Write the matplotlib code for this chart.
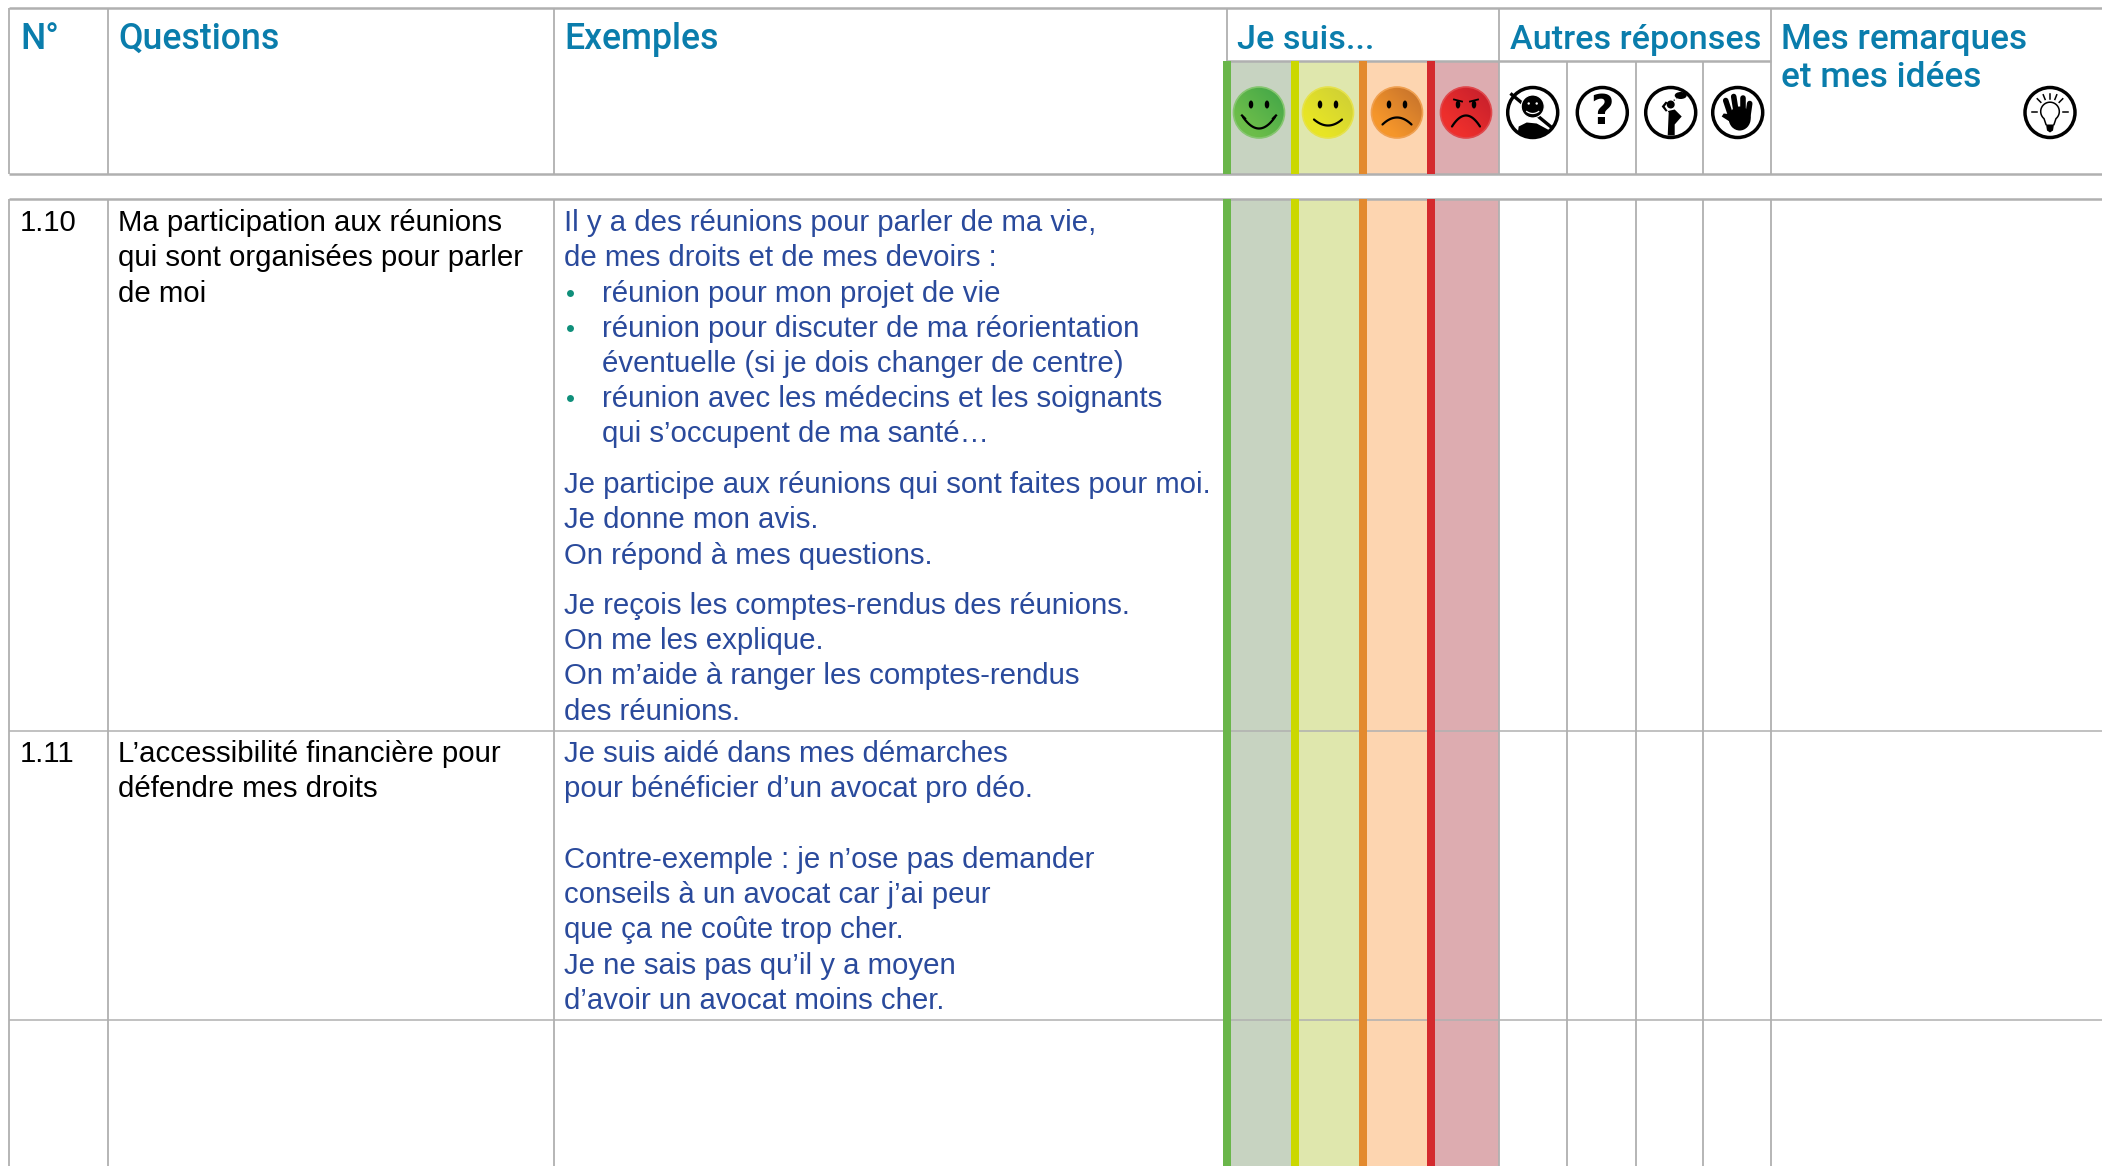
import matplotlib
matplotlib.use("Agg")
import numpy as np
import matplotlib.pyplot as plt
from matplotlib.patches import Circle, Rectangle, Polygon, Ellipse
from matplotlib.colors import LinearSegmentedColormap

# ---------- content ----------
header_titles = ["N°", "Questions", "Exemples", "Je suis...", "Autres réponses"]
header_remarks = ["Mes remarques", "et mes idées"]
row_numbers = ["1.10", "1.11"]
row_questions = [
    ["Ma participation aux réunions", "qui sont organisées pour parler", "de moi"],
    ["L’accessibilité financière pour", "défendre mes droits"],
]
examples_a = ["Il y a des réunions pour parler de ma vie,", "de mes droits et de mes devoirs :"]
bullets_a = [["réunion pour mon projet de vie"],
             ["réunion pour discuter de ma réorientation", "éventuelle (si je dois changer de centre)"],
             ["réunion avec les médecins et les soignants", "qui s’occupent de ma santé…"]]
examples_b = ["Je participe aux réunions qui sont faites pour moi.", "Je donne mon avis.", "On répond à mes questions."]
examples_c = ["Je reçois les comptes-rendus des réunions.", "On me les explique.",
              "On m’aide à ranger les comptes-rendus", "des réunions."]
examples_d = ["Je suis aidé dans mes démarches", "pour bénéficier d’un avocat pro déo."]
examples_e = ["Contre-exemple : je n’ose pas demander", "conseils à un avocat car j’ai peur",
              "que ça ne coûte trop cher.", "Je ne sais pas qu’il y a moyen", "d’avoir un avocat moins cher."]

# ---------- style ----------
W, H = 2102, 1166
GRID = "#b0b0b0"
HEAD = "#0a7dac"
BLUE = "#2a4a9c"
BULLET = "#0f8f7a"
TXT = 21.12
hdr_sizes = [25.6, 25.7, 25.7, 24.6, 24.6]
HDR_REMARKS = 25.3
LH = 35.25
band_fill = ["#c7d3c1", "#dfe7ad", "#fdd5b0", "#ddacb0"]
band_edge = ["#6ab64a", "#cbd800", "#e38a2e", "#d42a2e"]
face_light = ["#6cbd4a", "#e8e525", "#f5962a", "#ee2f2c"]
face_dark = ["#45a848", "#cfd035", "#c8742c", "#c8202c"]
face_rim = ["#86c670", "#e6e24c", "#f0a050", "#e0484c"]

fig = plt.figure(figsize=(W / 100, H / 100), dpi=100)
ax = fig.add_axes([0, 0, 1, 1])
ax.set_xlim(0, W)
ax.set_ylim(H, 0)
ax.axis("off")

x_cols = [9, 108, 553.5, 1226.5, 1499, 1771]
x_sub = [1567, 1635.5, 1703]
x_bands = [1223, 1291, 1359, 1427]
x_band_end = [1291, 1359, 1427, 1499]

def vline(x, y0, y1, lw=1.3):
    ax.plot([x, x], [y0, y1], color=GRID, lw=lw, solid_capstyle="butt", zorder=3)

def hline(x0, x1, y, lw=1.8):
    ax.plot([x0, x1], [y, y], color=GRID, lw=lw, solid_capstyle="butt", zorder=3)

# colour bands
for (top, bottom) in [(61, 174), (199, H)]:
    for x0, x1, f, e in zip(x_bands, x_band_end, band_fill, band_edge):
        ax.add_patch(Rectangle((x0, top), x1 - x0, bottom - top, fc=f, ec="none", zorder=1))
        ax.add_patch(Rectangle((x0, top), 8, bottom - top, fc=e, ec="none", zorder=4))

# grid lines
hline(9, W, 8)
hline(9, W, 174)
hline(9, W, 199)
hline(1226.5, 1771, 61)
for y in (731, 1020):
    hline(9, W, y, lw=1.1)
for x in x_cols[:3] + x_cols[4:]:
    vline(x, 8, 174)
    vline(x, 199, H)
vline(x_cols[3], 8, 61)
for x in x_sub:
    vline(x, 61, 174)
    vline(x, 199, H)

# headers
hdr_x = [20, 118, 564, 1237, 1510]
hdr_font = dict(color=HEAD, family="Roboto", weight="medium", va="baseline", ha="left")
for x, t, s in zip(hdr_x, header_titles, hdr_sizes):
    ax.text(x, 49, t, fontsize=s, **hdr_font)
for i, t in enumerate(header_remarks):
    ax.text(1781, 49 + i * 38, t, fontsize=HDR_REMARKS, **hdr_font)

def txt(x, y, s, color="black"):
    ax.text(x, y, s, color=color, fontsize=TXT, family="Liberation Sans", va="baseline", ha="left")

BASE0 = 231
for y0, num, qs in zip((BASE0, 762), row_numbers, row_questions):
    txt(20, y0, num)
    for i, q in enumerate(qs):
        txt(118, y0 + i * LH, q)

XE, XB = 564.5, 602
y = BASE0
for s in examples_a:
    txt(XE, y, s, BLUE); y += LH
for group in bullets_a:
    ax.plot([570], [y - 9], "o", color=BULLET, ms=5, mec="none")
    for s in group:
        txt(XB, y, s, BLUE); y += LH
y = 493
for s in examples_b:
    txt(XE, y, s, BLUE); y += LH
y = 614
for s in examples_c:
    txt(XE, y, s, BLUE); y += LH
y = 762
for s in examples_d:
    txt(XE, y, s, BLUE); y += LH
y += LH
for s in examples_e:
    txt(XE, y, s, BLUE); y += LH

# ---------- smileys ----------
face_x = [1259, 1328, 1397, 1466]
face_y = 112.5
R = 25.5
# mouth: half width, end offset, middle offset
mouths = [(16, 4.5, 16), (14, 7, 13), (14.5, 12, 5), (14, 14, 3)]

def curve(cx, hw, y_end, y_mid, lw=1.6):
    t = np.linspace(-1, 1, 40)
    ax.plot(cx + hw * t, face_y + y_mid + (y_end - y_mid) * t ** 2, color="black", lw=lw, zorder=6,
            solid_capstyle="round")

# first row is drawn at the lower edge: light at lower left, dark at upper right
grad = np.linspace(0, 1, 64)[None, :] + np.linspace(0, 1, 64)[:, None]
for i, cx in enumerate(face_x):
    cmap = LinearSegmentedColormap.from_list("f", [face_light[i], face_dark[i]])
    clip = Circle((cx, face_y), R, transform=ax.transData, fc="none", ec="none")
    ax.add_patch(clip)
    im = ax.imshow(grad, extent=(cx - R, cx + R, face_y - R, face_y + R), origin="upper", cmap=cmap,
                   vmin=0.5, vmax=1.8, zorder=5, aspect="auto")
    im.set_clip_path(clip)
    ax.add_patch(Circle((cx, face_y), R, fc="none", ec=face_rim[i], lw=1.2, zorder=5.5))
    for dx in (-8, 8):
        ax.add_patch(Ellipse((cx + dx, face_y - 8), 4.5, 8, fc="black", ec="none", zorder=6))
    hw, ye, ym = mouths[i]
    curve(cx, hw, ye, ym)
    if i == 0:
        ax.plot([cx - 17, cx - 14], [face_y + 3, face_y + 6], color="black", lw=1.6, zorder=6)
        ax.plot([cx + 17, cx + 14], [face_y + 3, face_y + 6], color="black", lw=1.6, zorder=6)
    if i == 3:
        ax.plot([cx - 12, cx - 4], [face_y - 13, face_y - 11], color="black", lw=1.3, zorder=6)
        ax.plot([cx + 12, cx + 4], [face_y - 13, face_y - 11], color="black", lw=1.3, zorder=6)

# ---------- round icons ----------
def ring(cx, r=25, lw=2.5):
    c = Circle((cx, face_y), r, fc="white", ec="black", lw=lw, zorder=5)
    ax.add_patch(c)
    return c

icon_x = [1532.7, 1602.3, 1670.7, 1737.7]
bulb_x = 2050

# 1: person who does not want to answer
cx = icon_x[0]
c = ring(cx)
ax.plot([cx - 21, cx + 19], [face_y - 18, face_y + 15], color="black", lw=2.4, zorder=6)
body = Polygon([(cx - 16, face_y + 28), (cx - 14, face_y + 14), (cx - 6, face_y + 10), (cx + 4, face_y + 11),
                (cx + 17, face_y + 18), (cx + 17, face_y + 28)], fc="black", ec="none", zorder=5.5)
ax.add_patch(body)
body.set_clip_path(c)
ax.add_patch(Circle((cx, face_y - 6), 11.5, fc="black", ec="white", lw=0.8, zorder=6))
for dx in (-4, 4):
    ax.add_patch(Circle((cx + dx, face_y - 9), 1.2, fc="white", ec="none", zorder=7))
t = np.linspace(-1, 1, 20)
ax.plot(cx + 6 * t, face_y + 1 - 2 * t ** 2, color="white", lw=0.9, zorder=7)

# 2: question mark
cx = icon_x[1]
ring(cx)
ax.text(cx, face_y + 1, "?", fontsize=29, weight="bold", family="DejaVu Sans", ha="center", va="center", zorder=6)

# 3: thinking person
cx = icon_x[2]
ring(cx)
ax.add_patch(Circle((cx, face_y - 8), 4, fc="black", zorder=6))
ax.add_patch(Polygon([(cx - 3, face_y + 23), (cx + 4, face_y + 23), (cx + 4, face_y + 12), (cx + 11, face_y + 4),
                      (cx + 4, face_y - 3), (cx - 5, face_y - 1), (cx - 9, face_y - 6), (cx - 5, face_y - 11),
                      (cx - 3, face_y - 10), (cx - 6, face_y - 6), (cx - 2, face_y)],
                     fc="black", ec="none", zorder=6))
ax.add_patch(Ellipse((cx + 10, face_y - 17), 12, 7, fc="black", ec="none", zorder=6))
ax.plot([cx + 3, cx + 6], [face_y - 12, face_y - 14], color="black", lw=0.9, ls=":", zorder=6)

# 4: raised hand
cx = icon_x[3]
ring(cx)
fingers = [((-7, 3), (-12, -12)), ((-1, 3), (-4, -16)), ((5, 3), (5, -15)), ((10, 5), (12, -9))]
for (x0, y0), (x1, y1) in fingers:
    ax.plot([cx + x0, cx + x1], [face_y + y0, face_y + y1], color="black", lw=4.0, solid_capstyle="round", zorder=6)
ax.add_patch(Ellipse((cx + 2, face_y + 6), 22, 24, fc="black", ec="none", zorder=6))
ax.add_patch(Polygon([(cx - 16, face_y + 4), (cx - 14, face_y + 1), (cx - 5, face_y + 2), (cx + 1, face_y + 14),
                      (cx - 5, face_y + 11)], fc="black", ec="none", zorder=6))

# 5: light bulb
ring(bulb_x)
th = np.deg2rad(np.linspace(130, 410, 60))
bx = bulb_x + 9.3 * np.cos(th)
by = face_y - 1 + 9.3 * np.sin(th)
ax.plot(np.r_[bulb_x - 4, bx, bulb_x + 4], np.r_[face_y + 12, by, face_y + 12], color="black", lw=1.1, zorder=6)
ax.add_patch(Polygon([(bulb_x - 4, face_y + 12), (bulb_x + 4, face_y + 12), (bulb_x + 3, face_y + 18),
                      (bulb_x, face_y + 20), (bulb_x - 3, face_y + 18)], fc="black", ec="none", zorder=6))
for a in np.deg2rad([-180, -135, -112, -90, -68, -45, 0]):
    ax.plot([bulb_x + 13 * np.cos(a), bulb_x + 18 * np.cos(a)],
            [face_y - 1 + 13 * np.sin(a), face_y - 1 + 18 * np.sin(a)], color="black", lw=1.1, zorder=6)

ax.set_xlim(0, W)
ax.set_ylim(H, 0)
fig.savefig("out.png", dpi=100)
